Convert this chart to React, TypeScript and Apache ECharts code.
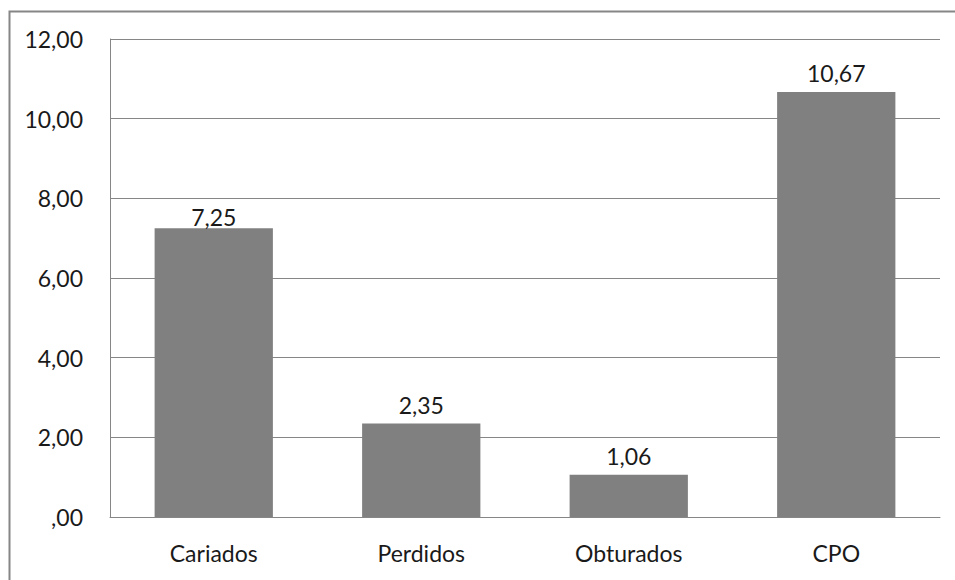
import React, { useEffect, useRef } from "react";
import * as echarts from "echarts";

const categories = ["Cariados", "Perdidos", "Obturados", "CPO"];
const values = [7.25, 2.35, 1.06, 10.67];
const yTicks = { min: 0, max: 12, interval: 2 };

const FONT = "Lato, 'Open Sans', sans-serif";
const FONT_SIZE = 23;
const TEXT = "#1a1a1a";

// Portuguese-style decimals; zero drops its leading digit
const fmt = (v: number) => (v === 0 ? ",00" : v.toFixed(2).replace(".", ","));

export default function App() {
  const ref = useRef<HTMLDivElement>(null);

  useEffect(() => {
    if (!ref.current) return;
    const chart = echarts.init(ref.current, undefined, { renderer: "svg" });
    // the first label sits tight against its bar, the others float a bit higher
    const barData = values.map((v, i) => ({
      value: v,
      label: { distance: i === 0 ? 0 : 7 },
    }));
    chart.setOption({
      animation: false,
      backgroundColor: "#ffffff",
      graphic: [
        {
          type: "rect",
          left: 7,
          top: 9,
          shape: { width: 960, height: 600 },
          style: { fill: "none", stroke: "#868686", lineWidth: 2 },
          silent: true,
        },
      ],
      grid: { left: 110, right: 15, top: 39, bottom: 63 },
      xAxis: {
        type: "category",
        data: categories,
        axisLine: { show: true, lineStyle: { color: "#868686", width: 1 } },
        axisTick: { show: false },
        axisLabel: { color: TEXT, fontFamily: FONT, fontSize: FONT_SIZE, margin: 24 },
      },
      yAxis: {
        type: "value",
        min: yTicks.min,
        max: yTicks.max,
        interval: yTicks.interval,
        axisLine: { show: true, lineStyle: { color: "#868686", width: 1 } },
        axisTick: { show: false },
        splitLine: { show: true, lineStyle: { color: "#868686", width: 1 } },
        axisLabel: {
          color: TEXT,
          fontFamily: FONT,
          fontSize: FONT_SIZE,
          margin: 27,
          formatter: (v: number) => fmt(v),
        },
      },
      series: [
        {
          type: "bar",
          data: barData,
          barCategoryGap: "43%",
          itemStyle: { color: "#808080" },
          label: {
            show: true,
            position: "top",
            color: TEXT,
            fontFamily: FONT,
            fontSize: FONT_SIZE,
            formatter: (p: any) => fmt(p.value),
          },
        },
      ],
    });
    return () => chart.dispose();
  }, []);

  return (
    <div
      ref={ref}
      style={{ position: "fixed", left: 0, top: 0, width: 955, height: 580 }}
    />
  );
}
